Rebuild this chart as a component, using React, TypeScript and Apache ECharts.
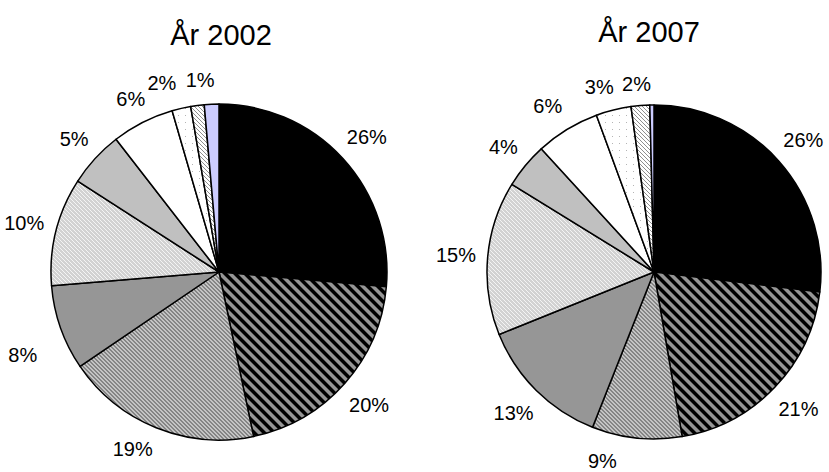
import React, { useEffect, useRef } from "react";
import * as echarts from "echarts";

// ---- data ----
const categories = [
  "Kategori 1", "Kategori 2", "Kategori 3", "Kategori 4", "Kategori 5",
  "Kategori 6", "Kategori 7", "Kategori 8", "Kategori 9", "Kategori 10",
];
const values2002 = [26.4, 20.3, 18.8, 8.2, 10.4, 5.4, 6.0, 1.8, 1.3, 1.4];
const values2007 = [26.9, 20.4, 8.7, 12.9, 14.9, 4.4, 6.2, 3.4, 1.8, 0.4];
const labels2002 = ["26%", "20%", "19%", "8%", "10%", "5%", "6%", "2%", "1%", ""];
const labels2007 = ["26%", "21%", "9%", "13%", "15%", "4%", "6%", "3%", "2%", ""];
const titles = ["År 2002", "År 2007"];

// ---- layout / style ----
const FONT = '"Liberation Sans", Arial, Helvetica, sans-serif';
const PIES = [
  { cx: 219, cy: 272, r: 168, titleX: 221, titleY: 35 },
  { cx: 654, cy: 272, r: 167, titleX: 649, titleY: 32 },
];
const LABEL_GAP = 11;
const labelTweaks: Record<number, { angle?: number; extra?: number }>[] = [
  { 2: { angle: 206 }, 3: { angle: 247, extra: 17 }, 7: { angle: 343.2, extra: 5 }, 8: { angle: 354.4, extra: 3 } },
  { 2: { angle: 195.3, extra: 4 }, 6: { angle: 327.4, extra: 3 }, 7: { angle: 343.5, extra: 1 }, 8: { angle: 354.7 } },
];

function tile(p: number, paint: (x: number, y: number) => string | null, bg: string) {
  const c = document.createElement("canvas");
  c.width = p;
  c.height = p;
  const ctx = c.getContext("2d")!;
  ctx.fillStyle = bg;
  ctx.fillRect(0, 0, p, p);
  for (let y = 0; y < p; y++) {
    for (let x = 0; x < p; x++) {
      const col = paint(x, y);
      if (col) {
        ctx.fillStyle = col;
        ctx.fillRect(x, y, 1, 1);
      }
    }
  }
  return { image: c, repeat: "repeat", imageWidth: p, imageHeight: p } as any;
}

function diag(p: number, stops: (string | null)[], bg: string) {
  return tile(p, (x, y) => stops[(((x - y) % p) + p) % p] ?? null, bg);
}

function makeFills() {
  const darkStripes = diag(10, ["#000", "#000", "#000", "#000", "#4d4d4d", null, null, null, null, "#4d4d4d"], "#969696");
  const fineStripes = diag(4, ["#858585", "#858585", null, null], "#c4c4c4");
  const lightStripes = diag(4, ["#f4f4f4", null, null, null], "#d2d2d2");
  const dotted = tile(7, (x, y) => (x === 3 && y === 3 ? "#b4b4b4" : null), "#ffffff");
  const hatched = diag(4, ["#8e8e8e", null, null, null], "#ffffff");
  return [
    "#000000",
    darkStripes,
    fineStripes,
    "#969696",
    lightStripes,
    "#c0c0c0",
    "#ffffff",
    dotted,
    hatched,
    "#ccccff",
  ];
}

function midAngles(vals: number[]) {
  const sum = vals.reduce((a, b) => a + b, 0);
  let acc = 0;
  return vals.map((v) => {
    const m = ((acc + v / 2) / sum) * 360;
    acc += v;
    return m;
  });
}

export default function App() {
  const ref = useRef<HTMLDivElement>(null);

  useEffect(() => {
    if (!ref.current) return;
    const chart = echarts.init(ref.current, undefined, { renderer: "svg" });
    const fills = makeFills();
    const seriesVals = [values2002, values2007];
    const seriesLabels = [labels2002, labels2007];

    const series = seriesVals.map((vals, si) => {
      const p = PIES[si];
      const mids = midAngles(vals);
      return {
        type: "pie",
        center: [p.cx, p.cy],
        radius: p.r,
        startAngle: 90,
        clockwise: true,
        avoidLabelOverlap: false,
        silent: true,
        emphasis: { disabled: true },
        itemStyle: { borderColor: "#000", borderWidth: 1.5 },
        labelLine: { show: false },
        label: {
          show: true,
          position: "outside",
          color: "#000",
          fontFamily: FONT,
          fontSize: 20,
          formatter: (prm: any) => seriesLabels[si][prm.dataIndex],
        },
        labelLayout: (prm: any) => {
          const i = prm.dataIndex;
          const tw = labelTweaks[si][i] || {};
          const ang = ((tw.angle ?? mids[i]) * Math.PI) / 180;
          const dx = Math.sin(ang);
          const dy = -Math.cos(ang);
          const hw = prm.labelRect.width / 2;
          const hh = prm.labelRect.height / 2;
          const ext = Math.abs(dx) * hw + Math.abs(dy) * hh;
          const dist = p.r + LABEL_GAP + ext + (tw.extra ?? 0);
          return { x: p.cx + dx * dist, y: p.cy + dy * dist, align: "center", verticalAlign: "middle" };
        },
        data: vals.map((v, i) => ({
          name: categories[i],
          value: v,
          itemStyle: { color: fills[i] },
          label: { show: seriesLabels[si][i] !== "" },
        })),
      };
    });

    chart.setOption({
      animation: false,
      backgroundColor: "#ffffff",
      graphic: PIES.map((p, i) => ({
        type: "text",
        x: p.titleX,
        y: p.titleY,
        style: {
          text: titles[i],
          fill: "#000",
          font: `29px ${FONT}`,
          align: "center",
          verticalAlign: "middle",
          textAlign: "center",
          textVerticalAlign: "middle",
        },
      })),
      series,
    } as any);

    return () => chart.dispose();
  }, []);

  return (
    <div
      ref={ref}
      style={{ position: "fixed", left: 0, top: 0, width: 829, height: 472, background: "#fff" }}
    />
  );
}
